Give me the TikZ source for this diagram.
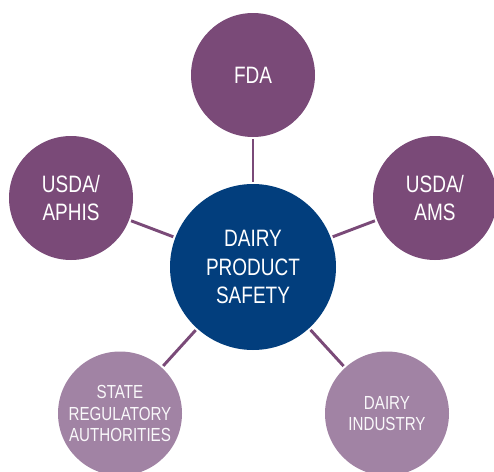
\documentclass[tikz,border=0pt]{standalone}
\usepackage{fontspec}
\usepackage{xcolor}
\usepackage{tikz}
\usetikzlibrary{calc}
\usetikzlibrary{shapes}
\usetikzlibrary{positioning}
\newfontfamily\condsans{Liberation Sans}[FakeStretch=0.8]
\definecolor{plum}{HTML}{7A4A78}
\definecolor{lilac}{HTML}{A183A4}
\definecolor{navy}{HTML}{023E7D}
\tikzstyle{hub} = [circle, fill = navy, text = white, align = center, inner sep = 0,
  minimum size = 124.5pt, font = \condsans\fontsize{17.8}{21.4}\selectfont]
\tikzstyle{agency} = [circle, fill = plum, text = white, align = center, inner sep = 0,
  minimum size = 93pt, font = \condsans\fontsize{17.8}{21.2}\selectfont]
\tikzstyle{local} = [agency, fill = lilac, text = white!94!lilac,
  font = \condsans\fontsize{14.2}{16.3}\selectfont]
\tikzstyle{link} = [-, draw = plum, line width = 2.2pt, shorten < = 1.5pt, shorten > = 1.5pt]

\begin{document}
\begin{tikzpicture}[x = 0.75pt, y = -0.75pt]
\useasboundingbox (0, 0) rectangle (494, 472);
\clip (0, 0) rectangle (494, 472);
\node [hub]    (S) at (253, 267)   {DAIRY\\PRODUCT\\SAFETY};
\node [agency] (F) at (253, 75)    {FDA};
\node [agency] (P) at (71, 198)    {USDA/\\APHIS};
\node [agency] (M) at (435, 198)   {USDA/\\AMS};
\node [local]  (R) at (120, 413.5) {STATE\\REGULATORY\\AUTHORITIES};
\node [local]  (I) at (387, 413.5) {DAIRY\\INDUSTRY};
\draw [link] (S) to (F);
\draw [link] (S) to (P);
\draw [link] (S) to (M);
\draw [link] (S) to (R);
\draw [link] (S) to (I);
\end{tikzpicture}
\end{document}
